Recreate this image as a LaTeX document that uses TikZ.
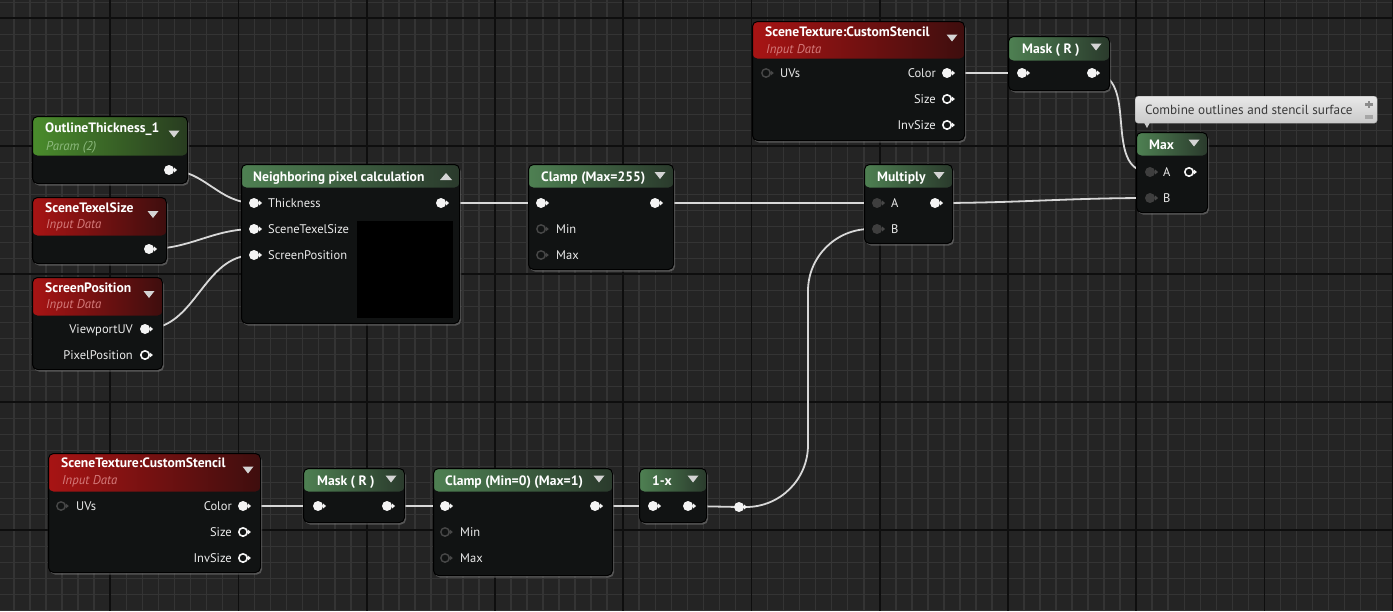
\documentclass[tikz,border=0pt]{standalone}
\usepackage{fontspec}
\setmainfont{PT Sans}
\usetikzlibrary{calc,shadows}
\definecolor{bg}{HTML}{242424}
\definecolor{gminor}{HTML}{343434}
\definecolor{gmajor}{HTML}{0E0E0E}
\definecolor{bodyc}{HTML}{111313}
\definecolor{fgreenL}{HTML}{4E8052}
\definecolor{fgreenR}{HTML}{2A3A2C}
\definecolor{pgreenL}{HTML}{4A8C2C}
\definecolor{pgreenR}{HTML}{283C20}
\definecolor{redL}{HTML}{A81414}
\definecolor{redR}{HTML}{3E0E0E}
\definecolor{wirec}{HTML}{D8D8D8}
\definecolor{pinw}{HTML}{F4F4F4}
\definecolor{pind}{HTML}{3E3E3E}
\definecolor{pinhd}{HTML}{474747}
\definecolor{subred}{HTML}{D47A7A}
\definecolor{subgreen}{HTML}{8DBA7E}
\definecolor{tric}{HTML}{D4D4D4}
\definecolor{cmtxt}{HTML}{3A3A3A}
\definecolor{cmtop}{HTML}{E8E8E8}
\definecolor{cmbot}{HTML}{CACACA}
\pgfdeclarelayer{gridl}
\pgfdeclarelayer{wirel}
\pgfsetlayers{gridl,wirel,main}
\tikzset{
  nodebody/.style={draw=black, line width=1pt, rounded corners=5pt, fill=bodyc, inner sep=0pt,
    drop shadow={opacity=0.55, shadow xshift=1.5pt, shadow yshift=-2pt}},
  fnhdr/.style={left color=fgreenL, right color=fgreenR},
  parhdr/.style={left color=pgreenL, right color=pgreenR},
  redhdr/.style={left color=redL, right color=redR},
  ttl/.style={text=white, font=\fontsize{13.6}{15}\selectfont\bfseries, inner sep=0pt, anchor=base west},
  subt/.style={font=\fontsize{12.8}{14}\selectfont\itshape, inner sep=0pt, anchor=base west},
  lbl/.style={text=white!92!black, font=\fontsize{12.5}{14}\selectfont, inner sep=0pt, anchor=base west},
  lblr/.style={lbl, anchor=base east},
  wire/.style={draw=wirec, line width=1.8pt},
  pinF/.style={circle, inner sep=0pt, minimum size=10pt, fill=pinw},
  pinHW/.style={circle, inner sep=0pt, minimum size=8.4pt, draw=pinw, line width=1.6pt},
  pinHD/.style={circle, inner sep=0pt, minimum size=8.4pt, draw=pinhd, line width=1.4pt},
  pinD/.style={circle, inner sep=0pt, minimum size=10pt, fill=pind},
  cmbox/.style={draw=cmbot!80!black, rounded corners=3pt, top color=cmtop, bottom color=cmbot, inner sep=0pt},
}
\newcommand{\gnode}[7]{%
  \node[nodebody, minimum width={(#4-#2)*1pt}, minimum height={(#5-#3)*1pt}, anchor=north west,
    path picture={\fill[#7] (path picture bounding box.north west) rectangle ([yshift={-(#6-#3)*1pt}]path picture bounding box.north east);}] (#1) at (#2,#3) {};}
\newcommand{\mkpin}[4]{\node[#2] (#1) at (#3) {};
  \fill[#4] (#1.east) ++(-0.3,2.6) -- ++(3.2,-2.6) -- ++(-3.2,-2.6) -- cycle;}
\newcommand{\dtri}[2]{\fill[tric] (#1-5.5,#2-3.5) -- (#1+5.5,#2-3.5) -- (#1,#2+3.5) -- cycle;}
\newcommand{\utri}[2]{\fill[tric] (#1-6,#2+3.5) -- (#1+6,#2+3.5) -- (#1,#2-3.5) -- cycle;}
\begin{document}
\begin{tikzpicture}[x=1pt,y=-1pt]
\useasboundingbox (0,0) rectangle (1393,611);
% ---------- grid ----------
\begin{pgfonlayer}{gridl}
\fill[bg] (0,0) rectangle (1393,611);
\begin{scope}
\clip (0,0) rectangle (1393,611);
\foreach \k in {-7,...,80} {\draw[gminor, line width=1.6pt] ({110.3+16.03*\k},0) -- ++(0,611);}
\foreach \k in {-2,...,38} {\draw[gminor, line width=1.6pt] (0,{18.3+16*\k}) -- ++(1393,0);}
\foreach \k in {0,...,10} {\draw[gmajor, line width=1.8pt] ({110.3+128.24*\k},0) -- ++(0,611);}
\foreach \k in {0,...,4} {\draw[gmajor, line width=1.8pt] (0,{18.3+128*\k}) -- ++(1393,0);}
\end{scope}
\end{pgfonlayer}
% ---------- OutlineThickness_1 ----------
\gnode{ot}{32}{116}{187}{183}{155}{parhdr}
\node[ttl] (ot-t) at (45,132) {OutlineThickness\_1};
\node[subt, text=subgreen] (ot-s) at (46,150) {Param (2)};
\dtri{174}{134}
\mkpin{ot-o}{pinF}{169,170}{pinw}
% ---------- SceneTexelSize ----------
\gnode{sts}{32}{197}{166}{263}{235}{redhdr}
\node[ttl] (sts-t) at (45,212) {SceneTexelSize};
\node[subt, text=subred] (sts-s) at (46,228.5) {Input Data};
\dtri{153}{214.5}
\mkpin{sts-o}{pinF}{149,249}{pinw}
% ---------- ScreenPosition ----------
\gnode{sp}{32}{277}{162}{369}{315}{redhdr}
\node[ttl] (sp-t) at (45,292) {ScreenPosition};
\node[subt, text=subred] (sp-s) at (46,308.5) {Input Data};
\dtri{149}{294.5}
\mkpin{sp-vp}{pinF}{145,329}{pinw}
\mkpin{sp-pp}{pinHW}{145,355}{pinw}
\node[lblr] (sp-l1) at (133,333.5) {ViewportUV};
\node[lblr] (sp-l2) at (133,359.5) {PixelPosition};
% ---------- Neighboring pixel calculation ----------
\gnode{npc}{241}{164}{459}{323}{187}{fnhdr}
\node[ttl] (npc-t) at (253,181) {Neighboring pixel calculation};
\utri{446}{176.5}
\node[fill=black, minimum width=96pt, minimum height=97pt, anchor=north west, inner sep=0pt] (npc-prev) at (357,221) {};
\mkpin{npc-i1}{pinF}{254,203}{pinw}
\mkpin{npc-i2}{pinF}{254,229}{pinw}
\mkpin{npc-i3}{pinF}{254,255}{pinw}
\mkpin{npc-o}{pinF}{441,203}{pinw}
\node[lbl] (npc-l1) at (268,207.5) {Thickness};
\node[lbl] (npc-l2) at (268,233.5) {SceneTexelSize};
\node[lbl] (npc-l3) at (268,259.5) {ScreenPosition};
% ---------- Clamp (Max=255) ----------
\gnode{ca}{528}{164}{673}{269}{187}{fnhdr}
\node[ttl] (ca-t) at (541,181) {Clamp (Max=255)};
\dtri{660}{175.5}
\mkpin{ca-i}{pinF}{541,203}{pinw}
\mkpin{ca-o}{pinF}{655,203}{pinw}
\mkpin{ca-mn}{pinHD}{541,229}{pinhd}
\mkpin{ca-mx}{pinHD}{541,255}{pinhd}
\node[lbl] (ca-l1) at (556,233.5) {Min};
\node[lbl] (ca-l2) at (556,259.5) {Max};
% ---------- Multiply ----------
\gnode{mul}{864}{164}{952}{243}{187}{fnhdr}
\node[ttl] (mul-t) at (877,181) {Multiply};
\dtri{939}{175.5}
\mkpin{mul-a}{pinD}{877,203}{pinhd}
\mkpin{mul-b}{pinD}{877,229}{pinhd}
\mkpin{mul-o}{pinF}{935,203}{pinw}
\node[lbl] (mul-la) at (891,207.5) {A};
\node[lbl] (mul-lb) at (891,233.5) {B};
% ---------- top SceneTexture ----------
\gnode{ts}{752}{21}{964}{140}{58}{redhdr}
\node[ttl] (ts-t) at (765,36.5) {SceneTexture:CustomStencil};
\node[subt, text=subred] (ts-s) at (766,53) {Input Data};
\dtri{952}{38}
\mkpin{ts-uv}{pinHD}{766,73}{pinhd}
\mkpin{ts-c}{pinF}{947,73}{pinw}
\mkpin{ts-sz}{pinHW}{947,99}{pinw}
\mkpin{ts-is}{pinHW}{947,125}{pinw}
\node[lbl] (ts-l0) at (780,77.5) {UVs};
\node[lblr] (ts-l1) at (936,77.5) {Color};
\node[lblr] (ts-l2) at (936,103.5) {Size};
\node[lblr] (ts-l3) at (936,129.5) {InvSize};
% ---------- top Mask ----------
\gnode{tm}{1008}{36}{1109}{90}{60}{fnhdr}
\node[ttl] (tm-t) at (1022,53) {Mask ( R )};
\dtri{1096}{47}
\mkpin{tm-i}{pinF}{1022,73}{pinw}
\mkpin{tm-o}{pinF}{1092,73}{pinw}
% ---------- comment ----------
\node[cmbox, minimum width=242pt, minimum height=27pt, anchor=north west] (cm) at (1135,96) {};
\node[lbl, text=cmtxt, font=\fontsize{13.2}{15}\selectfont] (cm-t) at (1145,114) {Combine outlines and stencil surface};
\fill[cmbot] (1144,122.5) -- (1150,122.5) -- (1147,128) -- cycle;
\fill[black!45] (1365,103) rectangle (1373,105.5);
\fill[black!45] (1368,101) rectangle (1370,107.5);
\fill[black!35] (1365,115) rectangle (1373,119);
% ---------- Max ----------
\gnode{mx}{1136}{132}{1207}{212}{155}{fnhdr}
\node[ttl] (mx-t) at (1149,149) {Max};
\dtri{1194}{143}
\mkpin{mx-a}{pinD}{1150,172}{pinhd}
\mkpin{mx-b}{pinD}{1150,198}{pinhd}
\mkpin{mx-o}{pinHW}{1189,172}{pinw}
\node[lbl] (mx-la) at (1163,176.5) {A};
\node[lbl] (mx-lb) at (1163,202.5) {B};
% ---------- bottom SceneTexture ----------
\gnode{bs}{48}{453}{260}{572}{491}{redhdr}
\node[ttl] (bs-t) at (61,467.5) {SceneTexture:CustomStencil};
\node[subt, text=subred] (bs-s) at (62,484) {Input Data};
\dtri{248}{470}
\mkpin{bs-uv}{pinHD}{61,506}{pinhd}
\mkpin{bs-c}{pinF}{243,506}{pinw}
\mkpin{bs-sz}{pinHW}{243,532}{pinw}
\mkpin{bs-is}{pinHW}{243,558}{pinw}
\node[lbl] (bs-l0) at (76,510.5) {UVs};
\node[lblr] (bs-l1) at (232,510.5) {Color};
\node[lblr] (bs-l2) at (232,536.5) {Size};
\node[lblr] (bs-l3) at (232,562.5) {InvSize};
% ---------- bottom Mask ----------
\gnode{bm}{303}{468}{404}{522}{491}{fnhdr}
\node[ttl] (bm-t) at (317,485) {Mask ( R )};
\dtri{391}{479}
\mkpin{bm-i}{pinF}{318,506}{pinw}
\mkpin{bm-o}{pinF}{387,506}{pinw}
% ---------- Clamp (Min=0) (Max=1) ----------
\gnode{cb}{433}{468}{612}{575}{491}{fnhdr}
\node[ttl] (cb-t) at (445,485) {Clamp (Min=0) (Max=1)};
\dtri{599}{479}
\mkpin{cb-i}{pinF}{445,506}{pinw}
\mkpin{cb-o}{pinF}{595,506}{pinw}
\mkpin{cb-mn}{pinHD}{445,532}{pinhd}
\mkpin{cb-mx}{pinHD}{445,558}{pinhd}
\node[lbl] (cb-l1) at (460,536.5) {Min};
\node[lbl] (cb-l2) at (460,562.5) {Max};
% ---------- 1-x ----------
\gnode{om}{639}{468}{706}{522}{491}{fnhdr}
\node[ttl] (om-t) at (652,485) {1-x};
\dtri{693}{479}
\mkpin{om-i}{pinF}{653,506}{pinw}
\mkpin{om-o}{pinF}{688,506}{pinw}
% ---------- reroute ----------
\mkpin{rr}{pinF}{739,507}{pinw}
% ---------- wires ----------
\begin{pgfonlayer}{wirel}
\draw[wire] (ot-o.center) to[out=0,in=180] (npc-i1.center);
\draw[wire] (sts-o.center) to[out=0,in=180] (npc-i2.center);
\draw[wire] (sp-vp.center) to[out=0,in=180] (npc-i3.center);
\draw[wire] (npc-o.center) -- (ca-i.center);
\draw[wire] (ca-o.center) -- (mul-a.center);
\draw[wire] (mul-o.center) to[out=0,in=180] (mx-b.center);
\draw[wire] (ts-c.center) -- (tm-i.center);
\draw[wire] (tm-o.center) to[out=0,in=180,looseness=1.1] (mx-a.center);
\draw[wire] (bs-c.center) -- (bm-i.center);
\draw[wire] (bm-o.center) -- (cb-i.center);
\draw[wire] (cb-o.center) -- (om-i.center);
\draw[wire] (om-o.center) -- (rr.center);
\draw[wire, rounded corners=62pt] (rr.center) -| ($(rr.center)!0.5!(mul-b.center)$) |- (mul-b.center);
\end{pgfonlayer}
\end{tikzpicture}
\end{document}
